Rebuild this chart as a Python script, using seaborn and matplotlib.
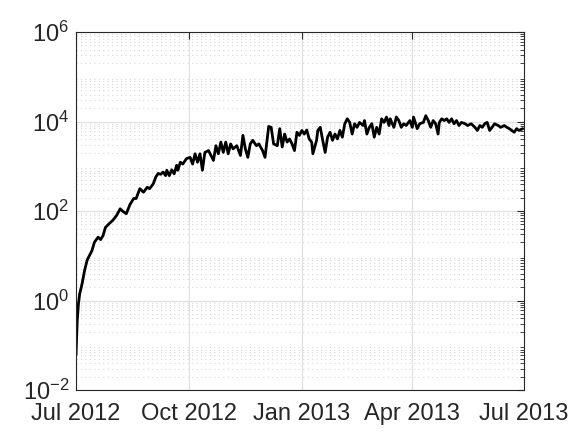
import numpy as np
import pandas as pd
import matplotlib
matplotlib.use("Agg")
import matplotlib.pyplot as plt
from matplotlib.ticker import LogLocator, FixedFormatter, NullFormatter
import seaborn as sns

# days since 1 Jul 2012, and the value
days = [0, 1, 2, 3, 5, 7, 9, 10, 13, 15, 18, 20, 22, 24, 27, 30, 33, 36, 38, 41,
        44, 47, 49, 52, 55, 58, 60, 63, 65, 67, 69, 71, 73, 74, 76, 78, 80, 82, 83, 85,
        87, 90, 93, 95, 97, 99, 101, 103, 105, 108, 112, 114, 116, 118, 120, 122, 124, 126, 128, 131,
        134, 136, 138, 140, 142, 144, 147, 149, 152, 154, 156, 157, 159, 161, 164, 166, 168, 170, 172, 174,
        176, 178, 180, 182, 184, 186, 188, 190, 192, 193, 196, 197, 199, 201, 203, 205, 207, 209, 211, 213,
        215, 217, 219, 221, 223, 225, 227, 229, 231, 234, 235, 237, 239, 241, 243, 245, 247, 249, 251, 253,
        255, 256, 259, 261, 263, 265, 267, 269, 272, 274, 275, 278, 280, 283, 285, 287, 289, 291, 293, 295,
        296, 298, 300, 302, 304, 306, 308, 310, 312, 314, 317, 319, 322, 325, 327, 329, 331, 333, 335, 337,
        339, 341, 344, 346, 349, 351, 353, 355, 357, 359, 361, 364]
values = [0.06, 0.35, 0.85, 1.4, 2.4, 4.7, 7.8, 9, 13, 20, 26, 23, 28, 43, 52, 62, 79, 112, 99, 87,
          140, 190, 190, 316, 263, 339, 316, 407, 575, 692, 661, 741, 617, 813, 617, 832, 676, 1050, 813, 1230,
          1120, 1480, 1580, 1120, 1900, 1230, 1900, 813, 2040, 2240, 1350, 2880, 1900, 3470, 2040, 3470, 1900, 3160, 2450, 2880,
          1740, 4900, 2450, 1580, 3160, 3800, 2880, 3160, 2240, 1580, 4470, 7760, 7410, 3160, 2880, 6920, 2690, 5250, 3470, 4070,
          3160, 2240, 5750, 4900, 6310, 5250, 6460, 4070, 3470, 1900, 3800, 6310, 7410, 3800, 2040, 4470, 5750, 3800, 5250, 4070,
          6310, 4470, 8910, 11500, 9550, 5250, 8910, 7410, 9550, 8130, 10500, 5250, 7410, 8910, 4470, 7410, 5250, 11500, 9550, 12600,
          8130, 11500, 7410, 12600, 10500, 7410, 8910, 8130, 10500, 7410, 12600, 6920, 8910, 9550, 13500, 10500, 7410, 10500, 8910, 5250,
          9550, 11500, 10500, 11500, 9550, 11500, 8910, 10500, 8130, 9550, 8910, 8130, 8910, 7410, 6310, 8130, 7410, 8910, 9550, 6310,
          7410, 8910, 8130, 7410, 8130, 7410, 6920, 6310, 5750, 6920, 6310, 6920]

tick_dates = ["2012-07-01", "2012-10-01", "2013-01-01", "2013-04-01", "2013-07-01"]
tick_labels = ["Jul 2012", "Oct 2012", "Jan 2013", "Apr 2013", "Jul 2013"]
y_ticks = [1e-2, 1e0, 1e2, 1e4, 1e6]
y_labels = ["$10^{-2}$", "$10^{0}$", "$10^{2}$", "$10^{4}$", "$10^{6}$"]

df = pd.DataFrame({"date": pd.Timestamp("2012-07-01") + pd.to_timedelta(days, unit="D"),
                   "value": values})

sns.set_style("white")
plt.rcParams["font.family"] = ["Liberation Sans", "DejaVu Sans"]
plt.rcParams["mathtext.fontset"] = "custom"
plt.rcParams["mathtext.rm"] = "Liberation Sans"
plt.rcParams["mathtext.it"] = "Liberation Sans"

fig = plt.figure(figsize=(5.81, 4.36), dpi=100)
ax = fig.add_axes([0.1308, 0.1055, 0.7711, 0.8211])

sns.lineplot(data=df, x="date", y="value", color="black", linewidth=2.0, ax=ax)
ax.set_yscale("log")
ax.set_ylim(1e-2, 1e6)
ax.set_xlim(pd.Timestamp(tick_dates[0]), pd.Timestamp(tick_dates[-1]))

ax.set_yticks(y_ticks)
ax.yaxis.set_major_formatter(FixedFormatter(y_labels))
ax.yaxis.set_minor_locator(LogLocator(base=10, subs=np.arange(2, 10), numticks=50))
ax.yaxis.set_minor_formatter(NullFormatter())
ax.set_xticks([pd.Timestamp(d) for d in tick_dates])
ax.set_xticklabels(tick_labels)

ax.grid(which="major", axis="both", color="#dedede", linewidth=0.8, linestyle="-")
ax.grid(which="minor", axis="y", color="#d8d8d8", linewidth=0.8, linestyle=(0, (1, 3)))
ax.tick_params(which="both", direction="in", top=True, right=True, colors="#262626",
               labelsize=17, length=5)
ax.tick_params(which="minor", length=3)
ax.tick_params(axis="x", pad=9)
ax.tick_params(axis="y", pad=5)
ax.set_xlabel("")
ax.set_ylabel("")
for s in ax.spines.values():
    s.set_color("#262626")
    s.set_linewidth(0.8)

fig.savefig("out.png", dpi=100)
